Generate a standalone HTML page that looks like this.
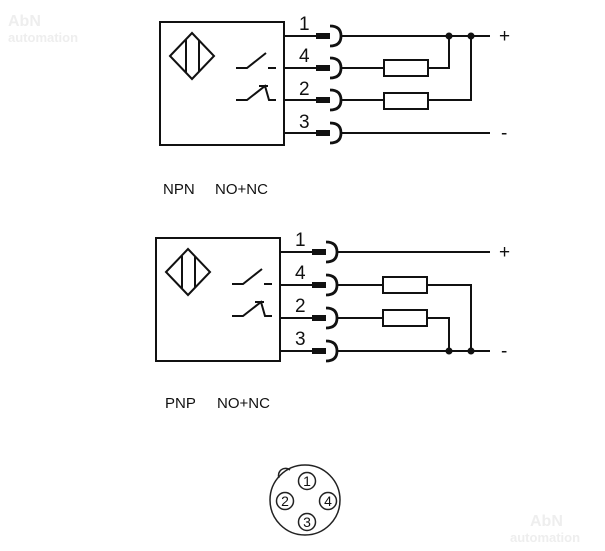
<!DOCTYPE html>
<html><head><meta charset="utf-8"><style>
html,body{margin:0;padding:0;background:#fff;}
svg{display:block;}
text{font-family:"Liberation Sans",sans-serif;fill:#111;}
</style></head><body>
<svg width="605" height="551" viewBox="0 0 605 551" xmlns="http://www.w3.org/2000/svg">
<defs>
<g id="sens" fill="none" stroke="#111" stroke-width="2">
  <rect x="160" y="22" width="124" height="123"/>
  <polygon points="170,56 192,33 214,56 192,79"/>
  <line x1="186" y1="40" x2="186" y2="72"/>
  <line x1="199" y1="40" x2="199" y2="72"/>
  <polyline points="236,68 247,68 266,53"/>
  <line x1="268" y1="68" x2="276" y2="68"/>
  <polyline points="236,100 247,100 265,86 269,100 276,100"/>
  <line x1="259" y1="86" x2="268" y2="86"/>
</g>
<g id="conn">
  <line x1="0" y1="0" x2="32" y2="0" stroke="#111" stroke-width="2"/>
  <rect x="32" y="-3" width="14" height="6" fill="#111"/>
  <path d="M46,-10 Q57,-10 57,0 Q57,10 46,10" fill="none" stroke="#111" stroke-width="2.8"/>
</g>
</defs>

<text x="8" y="26" font-size="16" font-weight="bold" style="fill:#eee">AbN</text>
<text x="8" y="42" font-size="13" font-weight="bold" style="fill:#eee">automation</text>
<text x="530" y="526" font-size="16" font-weight="bold" style="fill:#eee">AbN</text>
<text x="510" y="542" font-size="13" font-weight="bold" style="fill:#eee">automation</text>

<!-- TOP -->
<use href="#sens"/>
<use href="#conn" x="284" y="36"/>
<use href="#conn" x="284" y="68"/>
<use href="#conn" x="284" y="100"/>
<use href="#conn" x="284" y="133"/>
<g stroke="#111" stroke-width="2" fill="none">
  <line x1="341" y1="36" x2="490" y2="36"/>
  <line x1="341" y1="68" x2="384" y2="68"/>
  <line x1="341" y1="100" x2="384" y2="100"/>
  <line x1="341" y1="133" x2="490" y2="133"/>
  <rect x="384" y="60" width="44" height="16"/>
  <rect x="384" y="93" width="44" height="16"/>
  <polyline points="428,68 449,68 449,36"/>
  <polyline points="428,100 471,100 471,36"/>
</g>
<circle cx="449" cy="36" r="3.5" fill="#111"/>
<circle cx="471" cy="36" r="3.5" fill="#111"/>
<g font-size="19">
<text x="299" y="30">1</text><text x="299" y="62">4</text><text x="299" y="95">2</text><text x="299" y="128">3</text>
</g>
<text x="499" y="42" font-size="19">+</text>
<text x="501" y="139" font-size="19">-</text>
<text x="163" y="194" font-size="15">NPN</text>
<text x="215" y="194" font-size="15">NO+NC</text>

<!-- BOTTOM -->
<g transform="translate(-4,216)">
<use href="#sens"/>
</g>
<use href="#conn" x="280" y="252"/>
<use href="#conn" x="280" y="285"/>
<use href="#conn" x="280" y="318"/>
<use href="#conn" x="280" y="351"/>
<g stroke="#111" stroke-width="2" fill="none">
  <line x1="337" y1="252" x2="490" y2="252"/>
  <line x1="337" y1="285" x2="383" y2="285"/>
  <line x1="337" y1="318" x2="383" y2="318"/>
  <line x1="337" y1="351" x2="490" y2="351"/>
  <rect x="383" y="277" width="44" height="16"/>
  <rect x="383" y="310" width="44" height="16"/>
  <polyline points="427,285 471,285 471,351"/>
  <polyline points="427,318 449,318 449,351"/>
</g>
<circle cx="449" cy="351" r="3.5" fill="#111"/>
<circle cx="471" cy="351" r="3.5" fill="#111"/>
<g font-size="19">
<text x="295" y="246">1</text><text x="295" y="279">4</text><text x="295" y="312">2</text><text x="295" y="345">3</text>
</g>
<text x="499" y="258" font-size="19">+</text>
<text x="501" y="357" font-size="19">-</text>
<text x="165" y="408" font-size="15">PNP</text>
<text x="217" y="408" font-size="15">NO+NC</text>

<!-- connector face -->
<g fill="none" stroke="#222" stroke-width="1.5">
  <circle cx="305" cy="500" r="35"/>
  <path d="M279,478 A7,7 0 0 1 290,470"/>
  <circle cx="307" cy="481" r="8.5"/>
  <circle cx="285" cy="501" r="8.5"/>
  <circle cx="328" cy="501" r="8.5"/>
  <circle cx="307" cy="522" r="8.5"/>
</g>
<g font-size="14" text-anchor="middle">
  <text x="307" y="486">1</text>
  <text x="285" y="506">2</text>
  <text x="328" y="506">4</text>
  <text x="307" y="527">3</text>
</g>
</svg>
</body></html>
